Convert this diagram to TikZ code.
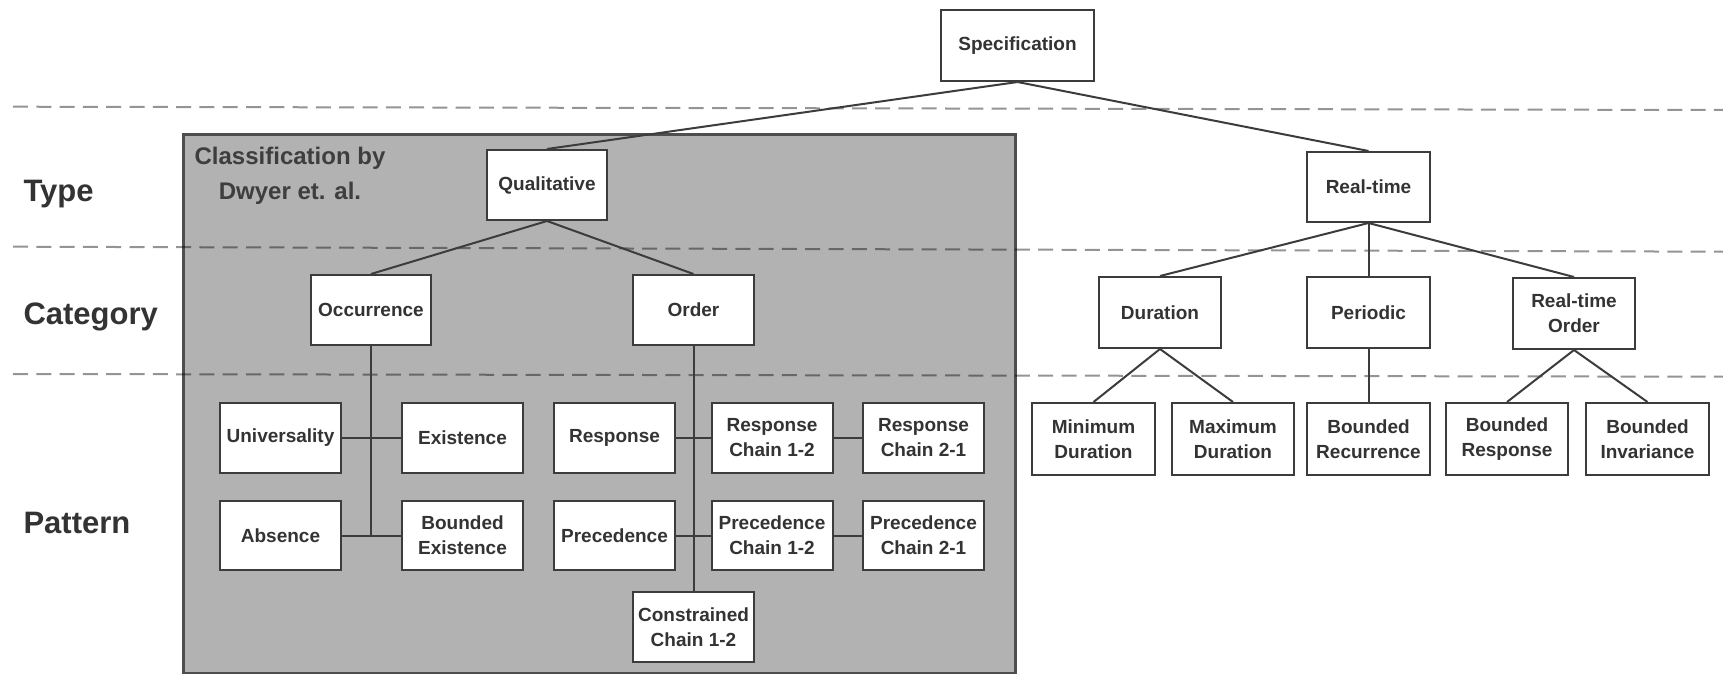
\documentclass[tikz,border=0pt]{standalone}
\usepackage{fontspec}
\setmainfont{Liberation Sans}
\definecolor{boxline}{HTML}{3C3C3C}
\definecolor{boxtext}{HTML}{333333}
\definecolor{greyfill}{HTML}{B2B2B2}
\definecolor{greyline}{HTML}{4E4E4E}
\begin{document}
\begin{tikzpicture}[x=1pt,y=-1pt,
  box/.style={draw=boxline, fill=white, line width=2pt, inner sep=0pt,
    minimum width=121pt, minimum height=70pt, align=center,
    font=\fontsize{19}{25}\selectfont\bfseries, text=boxtext},
  conn/.style={draw=boxline, line width=2pt},
  sep/.style={draw=black, opacity=0.42, line width=2pt, dash pattern=on 15pt off 8.3pt},
  level/.style={anchor=west, font=\fontsize{31}{35}\selectfont\bfseries, text=boxtext}]
\useasboundingbox (0,0) rectangle (1723,674);
\fill[white] (0,0) rectangle (1723,674);
% grey area
\draw[fill=greyfill, draw=greyline, line width=3pt] (183,135) rectangle (1015,673);
\node[align=center, font=\fontsize{24}{35}\selectfont\bfseries, text=boxtext!85!gray] (cls) at (290,175.5) {Classification by\\Dwyer et. al.};
% separators
\coordinate (s1a) at (13,106.7); \coordinate (s1b) at (1723,110);
\coordinate (s2a) at (13,246.7); \coordinate (s2b) at (1723,251.7);
\coordinate (s3a) at (13,374); \coordinate (s3b) at (1723,376.7);
\draw[sep] (s1a) -- (s1b);
\draw[sep] (s2a) -- (s2b);
\draw[sep] (s3a) -- (s3b);
% level labels
\node[level] (ltype) at (20,194) {Type};
\node[level] (lcat) at (20,317) {Category};
\node[level] (lpat) at (20,523) {Pattern};
% boxes
\node[box, minimum width=153pt, minimum height=71pt] (spec) at (1017.5,45.5) {Specification};
\node[box, minimum width=120pt] (qual) at (547,185) {Qualitative};
\node[box, minimum width=123pt] (rt) at (1368.5,187) {Real-time};
\node[box, minimum width=120pt] (occ) at (371,310) {Occurrence};
\node[box] (ord) at (693.5,310) {Order};
\node[box, minimum width=122pt, minimum height=71pt] (dur) at (1160,312.5) {Duration};
\node[box, minimum width=123pt, minimum height=71pt] (per) at (1368.5,312.5) {Periodic};
\node[box, minimum width=122pt, minimum height=71pt] (rto) at (1574,313.5) {Real-time\\Order};
\node[box, minimum width=123pt, minimum height=72pt] (mind) at (1093.5,439) {Minimum\\Duration};
\node[box, minimum width=122pt, minimum height=72pt] (maxd) at (1233,439) {Maximum\\Duration};
\node[box, minimum width=123pt, minimum height=72pt] (brec) at (1368.5,439) {Bounded\\Recurrence};
\node[box, minimum width=122pt, minimum height=72pt] (bresp) at (1507,439) {Bounded\\Response};
\node[box, minimum width=123pt, minimum height=72pt] (binv) at (1647.5,439) {Bounded\\Invariance};
\node[box] (univ) at (280.5,437.5) {Universality};
\node[box] (exist) at (462.5,437.5) {Existence};
\node[box] (resp) at (614.5,437.5) {Response};
\node[box] (rc12) at (772,437.5) {Response\\Chain 1-2};
\node[box] (rc21) at (923.5,437.5) {Response\\Chain 2-1};
\node[box, minimum height=69pt] (abs) at (280.5,535.5) {Absence};
\node[box, minimum height=69pt] (bexist) at (462.5,535.5) {Bounded\\Existence};
\node[box, minimum height=69pt] (prec) at (614.5,535.5) {Precedence};
\node[box, minimum height=69pt] (pc12) at (772,535.5) {Precedence\\Chain 1-2};
\node[box, minimum height=69pt] (pc21) at (923.5,535.5) {Precedence\\Chain 2-1};
\node[box] (cc12) at (693.5,627) {Constrained\\Chain 1-2};
% tree connectors
\draw[conn] (spec.south) -- (qual.north);
\draw[conn] (spec.south) -- (rt.north);
\draw[conn] (qual.south) -- (occ.north);
\draw[conn] (qual.south) -- (ord.north);
\draw[conn] (rt.south) -- (dur.north);
\draw[conn] (rt.south) -- (per.north);
\draw[conn] (rt.south) -- (rto.north);
\draw[conn] (dur.south) -- (mind.north);
\draw[conn] (dur.south) -- (maxd.north);
\draw[conn] (per.south) -- (brec.north);
\draw[conn] (rto.south) -- (bresp.north);
\draw[conn] (rto.south) -- (binv.north);
% pattern connectors (left)
\coordinate (occend) at (occ.south |- abs.east);
\draw[conn] (occ.south) -- (occend);
\draw[conn] (univ.east) -- (exist.west);
\draw[conn] (abs.east) -- (bexist.west);
\draw[conn] (ord.south) -- (cc12.north);
\draw[conn] (resp.east) -- (rc12.west);
\draw[conn] (rc12.east) -- (rc21.west);
\draw[conn] (prec.east) -- (pc12.west);
\draw[conn] (pc12.east) -- (pc21.west);
\end{tikzpicture}
\end{document}
